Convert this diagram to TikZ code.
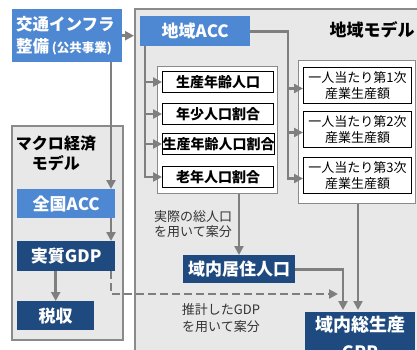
\documentclass[tikz,border=0pt]{standalone}
\usepackage{fontspec}
\setmainfont{Noto Sans CJK JP}
\usetikzlibrary{arrows.meta}
\definecolor{midblue}{HTML}{4F88D2}
\definecolor{darkblue}{HTML}{1F4A80}
\definecolor{panelgray}{HTML}{E8E8E8}
\definecolor{bordergray}{HTML}{8A8A8A}
\definecolor{linegray}{HTML}{7F7F7F}
\definecolor{notegray}{HTML}{333333}
\begin{document}
\begin{tikzpicture}[x=1pt,y=-1pt,
  panel/.style={draw=bordergray, line width=1.8pt, fill=panelgray, rectangle, inner sep=0pt, anchor=north west},
  holder/.style={draw=bordergray, line width=1.3pt, fill=white, rectangle, inner sep=0pt, anchor=north west},
  item/.style={draw=black, line width=1pt, fill=white, rectangle, inner sep=0pt, anchor=north west, align=center, minimum width=111pt, minimum height=21pt, font=\bfseries\fontsize{14}{15}\selectfont},
  ritem/.style={draw=black, line width=1pt, fill=white, rectangle, inner sep=0pt, anchor=north west, align=center, minimum width=108pt, minimum height=36pt, font=\fontsize{13}{16.5}\selectfont},
  lightbox/.style={fill=midblue, text=white, rectangle, inner sep=0pt, anchor=north west, font=\bfseries\fontsize{17}{19}\selectfont},
  darkbox/.style={fill=darkblue, text=white, rectangle, inner sep=0pt, anchor=north west, font=\bfseries\fontsize{17}{19}\selectfont},
  note/.style={text=notegray, align=center, inner sep=0pt},
  conn/.style={draw=linegray, line width=2.8pt, -{Triangle[length=9pt,width=9pt]}},
  dashconn/.style={conn, dash pattern=on 8pt off 4pt}
]
\useasboundingbox (0,0) rectangle (417,349);
\clip (0,0) rectangle (417,349);
\fill[white] (0,0) rectangle (417,349);

% panels
\node[panel, minimum width=300pt, minimum height=360pt] (region) at (134,8) {};
\node[panel, minimum width=111pt, minimum height=214pt] (macro) at (11,125) {};
\node[font=\bfseries\fontsize{17}{19}\selectfont, inner sep=0pt] (regionlabel) at (372,30) {地域モデル};
\node[note, text=black, font=\bfseries\fontsize{16}{20}\selectfont] (macrolabel) at (56,153) {マクロ経済\\モデル};

% containers
\node[holder, minimum width=120pt, minimum height=127pt] (lcont) at (157,66) {};
\node[holder, minimum width=117pt, minimum height=143pt] (rcont) at (298,60) {};

% top-left box
\node[lightbox, minimum height=53pt, text width=102pt, inner xsep=4pt, align=left, font=\bfseries\fontsize{16.5}{22}\selectfont] (infra) at (12,9) {交通インフラ\\整備\,{\fontsize{12.5}{14}\selectfont(公共事業)}};

% region ACC
\node[lightbox, minimum width=110pt, minimum height=30pt] (acc) at (140,16) {地域ACC};

% population items
\node[item] (p1) at (162,71) {生産年齢人口};
\node[item] (p2) at (162,103) {年少人口割合};
\node[item] (p3) at (162,133) {生産年齢人口割合};
\node[item] (p4) at (162,166) {老年人口割合};

% output items
\node[ritem] (r1) at (303,67) {一人当たり第1次\\産業生産額};
\node[ritem] (r2) at (303,111) {一人当たり第2次\\産業生産額};
\node[ritem] (r3) at (303,157) {一人当たり第3次\\産業生産額};

% macro boxes
\node[lightbox, minimum width=98pt, minimum height=29pt] (zenkoku) at (17,189) {全国ACC};
\node[darkbox, minimum width=98pt, minimum height=30pt] (jishitsu) at (17,241) {実質GDP};
\node[darkbox, minimum width=77pt, minimum height=29pt] (zeishu) at (17,301) {税収};

% result boxes
\node[darkbox, minimum width=112pt, minimum height=28pt] (jukyo) at (183,255) {域内居住人口};
\node[darkbox, minimum width=110pt, minimum height=70pt] (grp) at (305,312) {};
\node[text=white, inner sep=0pt, font=\bfseries\fontsize{18}{20}\selectfont] (grptitle) at (360,325) {域内総生産};
\node[text=white, inner sep=0pt, font=\bfseries\fontsize{17}{19}\selectfont] (grpsub) at (360,352) {GRP};

% notes
\node[note, font=\fontsize{13}{15}\selectfont] (note1) at (193,224) {実際の総人口\\を用いて案分};
\node[note, font=\fontsize{13}{17}\selectfont] (note2) at (221,318) {推計したGDP\\を用いて案分};

% helper coordinates
\coordinate (colx) at (111,0);
\coordinate (accx) at (145,0);
\coordinate (rx) at (288,0);
\coordinate (px) at (239,0);
\coordinate (gx) at (358,0);
\coordinate (hx) at (343,0);
\coordinate (gdpend) at (338,294);

% connectors
\draw[conn] (infra.east) -- (infra.east -| region.west);
\draw[conn] (infra.south -| colx) -- (zenkoku.north -| colx);
\draw[conn] (zenkoku.south -| colx) -- (jishitsu.north -| colx);
\draw[conn] (zeishu.north |- jishitsu.south) -- (zeishu.north);
\draw[dashconn] (jishitsu.south -| colx) |- (gdpend);

\draw[conn] (acc.south -| accx) |- (p1.west);
\draw[conn] (acc.south -| accx) |- (p2.west);
\draw[conn] (acc.south -| accx) |- (p3.west);
\draw[conn] (acc.south -| accx) |- (p4.west);

\draw[conn] (acc.east) -- (acc.east -| rx) |- ([yshift=-3pt]r1.west);
\draw[conn] (acc.east) -- (acc.east -| rx) |- ([yshift=-3pt]r2.west);
\draw[conn] (acc.east) -- (acc.east -| rx) |- ([yshift=-3pt]r3.west);

\draw[conn] (lcont.south -| px) -- (jukyo.north -| px);
\draw[conn, shorten >=2pt] (rcont.south -| gx) -- (grp.north -| gx);
\draw[conn, shorten >=2pt] (jukyo.east) -| (grp.north -| hx);
\end{tikzpicture}
\end{document}
